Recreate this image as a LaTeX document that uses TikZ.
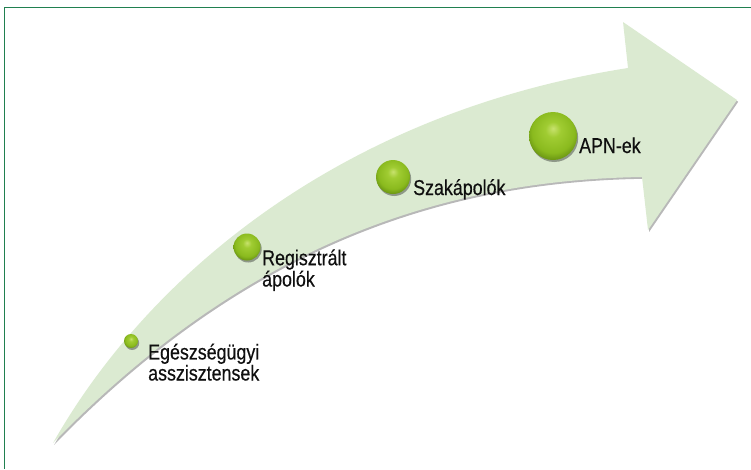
\documentclass[tikz,border=0pt]{standalone}
\usepackage{fontspec}
\newfontfamily\labfont[FakeStretch=0.83,FakeBold=0.4]{Liberation Sans}
\usetikzlibrary{shadows}
\definecolor{arrowgreen}{RGB}{219,234,209}
\definecolor{framegreen}{RGB}{32,128,80}
\definecolor{ballhi}{RGB}{200,226,110}
\definecolor{ballmid}{RGB}{160,204,50}
\definecolor{ballmid2}{RGB}{138,186,30}
\definecolor{ballrim}{RGB}{98,140,16}
\definecolor{labtext}{RGB}{15,15,15}
\pgfdeclareradialshading{greenball}{\pgfpoint{0bp}{8bp}}{%
  color(0bp)=(ballhi); color(8bp)=(ballmid); color(22bp)=(ballmid2);
  color(30bp)=(ballrim); color(34bp)=(ballrim); color(50bp)=(ballrim)}
\tikzset{
  arrowbody/.style={fill=arrowgreen,
    drop shadow={shadow xshift=1.2pt,shadow yshift=-1.8pt,opacity=0.28,fill=black}},
  gball/.style={circle,inner sep=0pt,shading=greenball,
    drop shadow={shadow xshift=1.2pt,shadow yshift=-2pt,opacity=0.35,fill=black}},
  lab/.style={font=\labfont\fontsize{21.5}{19.5}\selectfont,text=labtext,
    inner sep=0pt,anchor=base west,align=left},
  frameline/.style={draw=framegreen,line width=1.6pt}
}
\begin{document}
\begin{tikzpicture}[x=1pt,y=-1pt]
\useasboundingbox (0,0) rectangle (751,469);
% frame (top and left edges only)
\coordinate (fc) at (4.5,7.5);
\coordinate (fr) at (751,7.5);
\coordinate (fb) at (4.5,469);
\draw[frameline] (fr) -- (fc) -- (fb);
% curved arrow
\path[arrowbody] (53,443) .. controls (150,272) and (345,112) .. (628,68)
  -- (623,22) -- (737,100) -- (648,230) -- (642,177)
  .. controls (450,180) and (250,240) .. (53,443) -- cycle;
% balls
\node[gball,minimum size=14pt] (b1) at (131,341) {};
\node[gball,minimum size=27pt] (b2) at (247,247) {};
\node[gball,minimum size=34pt] (b3) at (393,177) {};
\node[gball,minimum size=48pt] (b4) at (553,136) {};
% labels (anchor at baseline of last line)
\node[lab] (t1) at (148,380.5) {Egészségügyi\\asszisztensek};
\node[lab] (t2) at (262,286.5) {Regisztrált\\ápolók};
\node[lab] (t3) at (413,195) {Szakápolók};
\node[lab] (t4) at (579,153) {APN-ek};
\end{tikzpicture}
\end{document}
